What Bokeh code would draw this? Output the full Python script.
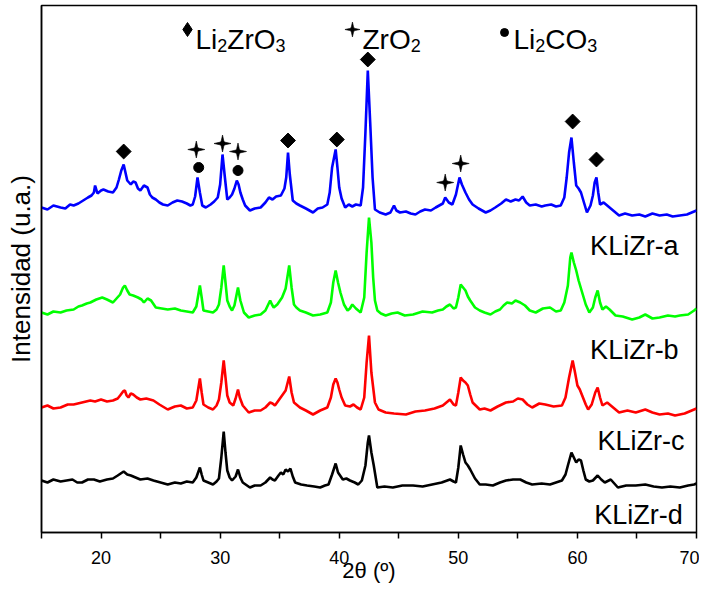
from bokeh.plotting import figure
from bokeh.models import Range1d, FixedTicker
from bokeh.embed import file_html
from bokeh.resources import INLINE
from bokeh.core.properties import value

# ---------------- data (2theta in degrees, intensity in a.u.) ----------------
tt_a = [15.0, 15.5, 16.0, 16.6, 17.0, 17.4, 17.7, 18.1, 18.5, 18.9, 19.2, 19.4, 19.5, 19.7, 20.0,
        20.2, 20.6, 21.0, 21.3, 21.5, 21.7, 21.9, 22.05, 22.2, 22.5, 22.7, 22.9, 23.1, 23.3, 23.6,
        23.9, 24.1, 24.3, 24.6, 24.9, 25.2, 25.6, 26.0, 26.4, 26.8, 27.2, 27.5, 27.7, 27.9, 28.1,
        28.3, 28.5, 28.8, 29.2, 29.5, 29.8, 30.0, 30.2, 30.4, 30.6, 30.8, 31.0, 31.2, 31.4, 31.55,
        31.7, 31.9, 32.1, 32.5, 32.9, 33.4, 33.8, 34.1, 34.4, 34.7, 35.1, 35.4, 35.55, 35.7, 35.85,
        36.1, 36.4, 36.7, 37.2, 37.8, 38.2, 38.6, 39.0, 39.2, 39.4, 39.7, 39.85, 40.0, 40.2, 40.5,
        40.8, 41.1, 41.4, 41.8, 42.0, 42.2, 42.4, 42.6, 42.8, 43.0, 43.4, 43.9, 44.3, 44.6, 44.8,
        45.1, 45.6, 46.0, 46.4, 46.8, 47.2, 47.7, 48.1, 48.4, 48.7, 48.9, 49.2, 49.5, 49.8, 50.1,
        50.3, 50.6, 50.9, 51.2, 51.7, 52.3, 52.7, 53.1, 53.6, 54.0, 54.4, 54.8, 55.1, 55.4, 55.7,
        56.0, 56.5, 57.0, 57.3, 57.8, 58.2, 58.6, 58.9, 59.1, 59.3, 59.5, 59.7, 59.9, 60.1, 60.3,
        60.6, 60.8, 61.1, 61.3, 61.45, 61.6, 61.75, 61.9, 62.2, 62.7, 63.0, 63.5, 64.0, 64.6, 65.2,
        65.7, 66.3, 66.9, 67.5, 68.0, 68.6, 69.2, 69.8, 70.0]
int_a = [25, 23, 27, 25, 24, 28, 27, 29, 32, 35, 37, 40, 47, 39, 42,
         43, 41, 40, 45, 53, 62, 68, 60, 52, 48, 51, 50, 44, 42, 47,
         45, 38, 35, 33, 30, 28, 27, 30, 32, 31, 29, 27, 28, 36, 55,
         40, 27, 25, 28, 31, 35, 48, 78, 55, 33, 35, 38, 44, 52, 48,
         40, 33, 27, 22, 24, 25, 30, 35, 33, 36, 37, 44, 55, 80, 58,
         32, 29, 27, 24, 20, 24, 25, 28, 40, 65, 83, 65, 45, 34, 25,
         28, 26, 28, 27, 45, 100, 162, 110, 55, 23, 20, 18, 20, 27, 22,
         20, 21, 19, 18, 21, 23, 22, 25, 27, 29, 35, 30, 28, 38, 55,
         48, 40, 33, 28, 24, 20, 22, 25, 29, 33, 31, 33, 32, 36, 30,
         27, 28, 26, 27, 28, 26, 27, 35, 55, 80, 95, 70, 47, 44, 40,
         28, 20, 27, 37, 50, 55, 40, 28, 30, 25, 22, 17, 19, 17, 18,
         16, 19, 17, 18, 16, 17, 18, 21, 22]

tt_b = [15.0, 15.5, 16.0, 16.6, 17.1, 17.7, 18.1, 18.4, 18.8, 19.1, 19.6, 20.1, 20.5, 21.0, 21.3,
        21.6, 21.85, 22.0, 22.2, 22.4, 22.7, 23.1, 23.4, 23.6, 23.9, 24.2, 24.6, 25.1, 25.6, 26.2,
        26.7, 27.2, 27.7, 28.0, 28.3, 28.45, 28.6, 29.0, 29.4, 29.7, 29.9, 30.1, 30.3, 30.45, 30.6,
        30.8, 31.0, 31.2, 31.5, 31.7, 32.0, 32.4, 32.9, 33.4, 33.8, 34.2, 34.35, 34.5, 34.8, 35.2,
        35.5, 35.8, 36.0, 36.2, 36.4, 36.7, 37.2, 37.8, 38.4, 39.0, 39.3, 39.5, 39.7, 39.9, 40.1,
        40.4, 40.7, 40.9, 41.1, 41.4, 41.8, 42.1, 42.3, 42.5, 42.7, 42.85, 43.0, 43.2, 43.5, 43.9,
        44.4, 44.9, 45.5, 46.2, 47.0, 47.8, 48.3, 48.7, 49.0, 49.3, 49.6, 49.8, 50.0, 50.2, 50.4,
        50.6, 50.8, 51.0, 51.4, 51.8, 52.2, 52.7, 53.1, 53.5, 53.8, 54.1, 54.5, 54.8, 55.2, 55.6,
        56.0, 56.5, 57.1, 57.7, 58.2, 58.6, 58.9, 59.2, 59.4, 59.5, 59.7, 59.9, 60.1, 60.4, 60.7,
        61.0, 61.3, 61.5, 61.7, 61.9, 62.1, 62.4, 62.7, 63.2, 63.8, 64.6, 65.2, 65.7, 66.3, 66.9,
        67.6, 68.2, 68.6, 69.3, 69.8, 70.0]
int_b = [20, 18, 21, 20, 22, 23, 26, 27, 29, 30, 33, 35, 33, 30, 34,
         38, 45, 47, 42, 38, 37, 35, 33, 30, 34, 32, 25, 24, 23, 24,
         22, 21, 20, 26, 47, 35, 22, 21, 20, 23, 28, 45, 67, 50, 32,
         26, 22, 27, 45, 32, 20, 15, 17, 18, 22, 32, 28, 25, 28, 35,
         44, 67, 45, 28, 25, 22, 20, 17, 18, 20, 30, 50, 62, 50, 40,
         28, 22, 24, 28, 24, 20, 35, 80, 115, 90, 55, 32, 22, 19, 17,
         19, 20, 17, 18, 21, 20, 22, 23, 26, 28, 24, 25, 35, 48, 45,
         42, 36, 32, 25, 22, 20, 18, 21, 23, 27, 30, 29, 32, 30, 27,
         22, 20, 24, 25, 21, 22, 30, 47, 75, 80, 70, 62, 52, 40, 28,
         20, 25, 35, 42, 30, 23, 26, 23, 17, 16, 13, 15, 18, 14, 15,
         17, 16, 17, 18, 22, 24]

tt_c = [15.0, 15.5, 16.0, 16.6, 17.2, 17.7, 18.4, 19.1, 19.5, 20.0, 20.5, 21.0, 21.4, 21.6, 21.85,
        22.0, 22.15, 22.3, 22.5, 22.7, 23.0, 23.3, 23.8, 24.4, 24.9, 25.6, 26.2, 26.7, 27.2, 27.7,
        28.0, 28.3, 28.45, 28.6, 29.0, 29.4, 29.7, 29.9, 30.1, 30.3, 30.45, 30.6, 30.8, 31.1, 31.3,
        31.5, 31.65, 31.9, 32.4, 32.9, 33.4, 33.8, 34.2, 34.4, 34.6, 34.9, 35.2, 35.5, 35.8, 36.0,
        36.2, 36.7, 37.2, 37.8, 38.4, 39.0, 39.3, 39.5, 39.7, 39.85, 40.0, 40.2, 40.5, 40.9, 41.2,
        41.5, 41.8, 42.1, 42.3, 42.5, 42.7, 42.9, 43.0, 43.3, 43.9, 44.6, 45.6, 46.4, 47.2, 48.0,
        48.7, 49.0, 49.3, 49.6, 49.8, 50.0, 50.2, 50.4, 50.6, 50.8, 51.0, 51.2, 51.8, 52.2, 52.7,
        53.3, 54.0, 54.6, 55.0, 55.4, 55.8, 56.2, 56.8, 57.3, 58.0, 58.7, 59.0, 59.3, 59.6, 59.8,
        60.0, 60.2, 60.4, 60.7, 60.9, 61.2, 61.5, 61.7, 61.9, 62.1, 62.5, 62.8, 63.5, 64.2, 64.9,
        65.7, 66.3, 66.9, 67.6, 68.2, 69.0, 69.8, 70.0]
int_c = [15, 17, 14, 15, 18, 18, 20, 22, 21, 23, 21, 22, 24, 27, 31,
         32, 27, 25, 29, 28, 25, 23, 24, 22, 18, 13, 16, 17, 14, 15,
         22, 44, 30, 18, 15, 13, 17, 23, 40, 62, 45, 27, 20, 17, 24,
         33, 25, 17, 10, 12, 12, 15, 20, 19, 17, 22, 27, 32, 46, 30,
         20, 15, 12, 8, 12, 15, 25, 38, 44, 40, 33, 25, 17, 16, 18,
         15, 13, 25, 60, 87, 50, 30, 20, 13, 10, 9, 8, 11, 12, 14,
         17, 20, 23, 18, 17, 30, 45, 42, 40, 37, 28, 20, 13, 14, 12,
         16, 20, 21, 24, 23, 18, 15, 19, 18, 16, 17, 25, 45, 62, 50,
         37, 33, 27, 18, 13, 18, 30, 35, 25, 17, 20, 17, 10, 12, 10,
         13, 10, 8, 9, 7, 9, 13, 14]

tt_d = [15.0, 15.5, 16.0, 16.6, 17.1, 17.6, 18.0, 18.4, 18.9, 19.4, 19.9, 20.5, 21.0, 21.4, 21.9,
        22.2, 22.5, 22.9, 23.3, 23.9, 24.4, 25.0, 25.6, 26.2, 26.7, 27.2, 27.7, 28.0, 28.3, 28.45,
        28.6, 29.0, 29.4, 29.7, 29.9, 30.1, 30.3, 30.45, 30.6, 30.8, 31.0, 31.3, 31.5, 31.7, 31.9,
        32.5, 32.9, 33.4, 33.8, 34.2, 34.4, 34.6, 34.9, 35.1, 35.3, 35.5, 35.7, 35.9, 36.1, 36.3,
        36.8, 37.3, 37.9, 38.4, 38.8, 39.1, 39.4, 39.7, 39.9, 40.3, 40.6, 40.9, 41.3, 41.6, 41.9,
        42.2, 42.4, 42.5, 42.7, 42.9, 43.2, 43.8, 44.5, 45.3, 46.2, 47.0, 47.8, 48.6, 49.3, 49.6,
        49.8, 50.0, 50.2, 50.4, 50.6, 50.8, 51.0, 51.4, 51.8, 52.3, 52.9, 53.5, 54.0, 54.6, 55.2,
        55.7, 56.2, 57.0, 57.7, 58.2, 58.7, 59.0, 59.2, 59.5, 59.7, 59.9, 60.1, 60.3, 60.5, 60.7,
        61.0, 61.3, 61.7, 62.0, 62.3, 62.8, 63.1, 63.4, 64.1, 64.9, 65.7, 66.4, 67.1, 67.8, 68.6,
        69.3, 69.8, 70.0]
int_d = [12, 10, 13, 11, 12, 13, 10, 10, 13, 13, 11, 13, 14, 17, 21,
         18, 17, 15, 13, 14, 12, 10, 8, 10, 9, 11, 10, 15, 25, 18,
         12, 10, 8, 11, 14, 35, 61, 40, 22, 15, 12, 16, 23, 15, 10,
         5, 7, 7, 10, 15, 13, 12, 17, 20, 18, 23, 21, 24, 16, 10,
         8, 7, 6, 5, 7, 8, 18, 29, 20, 13, 14, 12, 10, 8, 12,
         27, 50, 57, 40, 27, 5, 6, 5, 7, 7, 6, 8, 10, 13, 11,
         10, 25, 47, 38, 30, 27, 23, 14, 8, 8, 7, 10, 12, 13, 13,
         10, 8, 9, 8, 10, 12, 18, 27, 40, 35, 30, 33, 32, 22, 13,
         11, 12, 17, 13, 10, 13, 9, 5, 7, 7, 8, 6, 5, 6, 5,
         7, 8, 9]

sample_names = ["KLiZr-a", "KLiZr-b", "KLiZr-c", "KLiZr-d"]
stack_offsets = [300, 200, 110, 40]
line_colors = ["#0000FF", "#00FF00", "#FF0000", "#000000"]

# phase markers (2theta of identified reflections)
li2zro3_tt = [21.9, 35.7, 39.8, 42.4, 59.6, 61.6]
zro2_tt = [28.0, 30.2, 31.5, 48.9, 50.2]
li2co3_tt = [28.2, 31.5]

x_major_ticks = [20, 30, 40, 50, 60, 70]
x_minor_ticks = [15, 25, 35, 45, 55, 65]

# ---------------- figure ----------------
FONT = "Liberation Sans"
FRAME_W, X_SPAN = 655, 55.0
PX = X_SPAN / FRAME_W          # data units per pixel along x (y is 1 unit per pixel)

p = figure(width=699, height=587, x_range=Range1d(15, 70), y_range=Range1d(0, 527),
           output_backend="svg", toolbar_location=None,
           min_border_left=41, min_border_right=3, min_border_top=5, min_border_bottom=55)
p.grid.visible = False
p.outline_line_color = "black"
p.outline_line_width = 1.5
p.background_fill_color = "white"
p.border_fill_color = "white"

xa = p.xaxis[0]
xa.ticker = FixedTicker(ticks=x_major_ticks, minor_ticks=x_minor_ticks)
xa.major_tick_out = 6
xa.major_tick_in = 0
xa.minor_tick_out = 6
xa.minor_tick_in = 0
xa.axis_line_width = 1.5
xa.major_tick_line_width = 1.5
xa.minor_tick_line_width = 1.5
xa.major_label_text_font = FONT
xa.major_label_text_font_size = "18px"
xa.major_label_text_color = "black"
xa.major_label_standoff = 12
xa.axis_label = "2θ (º)"
xa.axis_label_text_font = FONT
xa.axis_label_text_font_size = "22px"
xa.axis_label_text_font_style = "normal"
xa.axis_label_text_color = "black"
xa.axis_label_standoff = -9

ya = p.yaxis[0]
ya.ticker = FixedTicker(ticks=[])
ya.major_tick_out = 0
ya.minor_tick_out = 0
ya.major_label_standoff = 0
ya.axis_line_width = 1.5
ya.axis_label = "Intensidad (u.a.)"
ya.axis_label_text_font = FONT
ya.axis_label_text_font_size = "26px"
ya.axis_label_text_font_style = "normal"
ya.axis_label_text_color = "black"
ya.axis_label_standoff = 6

all_tt = [tt_a, tt_b, tt_c, tt_d]
all_int = [int_a, int_b, int_c, int_d]
for tt, iv, off, col in zip(all_tt, all_int, stack_offsets, line_colors):
    p.line(tt, [v + off for v in iv], line_color=col, line_width=2.6)

# sample labels
lab_x = [68.5, 68.5, 69.0, 68.85]
lab_y = [287, 183, 92, 18]
p.text(x=lab_x, y=lab_y, text=sample_names, text_font=value(FONT), text_font_size=value("27px"),
       text_align="right", text_baseline="alphabetic", text_color="black")


def stars(cx_list, cy_list, r_px):
    """four-pointed concave star outlines around the given centres"""
    import math
    prof = [(90, 1.0), (67.5, 0.38), (45, 0.28), (22.5, 0.38)]
    xs, ys = [], []
    for cx, cy in zip(cx_list, cy_list):
        px_, py_ = [], []
        for q in range(4):
            for ang, rf in prof:
                a = math.radians(ang - 90 * q)
                px_.append(cx + math.cos(a) * rf * r_px * PX)
                py_.append(cy + math.sin(a) * rf * r_px)
        xs.append(px_)
        ys.append(py_)
    p.patches(xs, ys, fill_color="black", line_color="black", line_width=0.6)


# phase markers above peaks
dia_y = [381, 392, 393, 473, 411, 373]
star_y = [383, 389, 381, 350, 369]
circ_y = [365, 362]
p.scatter(li2zro3_tt, dia_y, marker="square", angle=0.785398, size=10.5,
          fill_color="black", line_color="black")
stars(zro2_tt, star_y, 8.5)
p.scatter(li2co3_tt, circ_y, marker="circle", size=10, fill_color="black", line_color="black")

# legend (symbol + formula with subscripts)
W = {"L": 0.556, "i": 0.222, "Z": 0.611, "r": 0.333, "O": 0.778, "C": 0.722, "2": 0.556, "3": 0.556}
MAIN, SUB = 28, 18


def formula(x0, pieces):
    x = x0
    for txt, is_sub in pieces:
        fs = SUB if is_sub else MAIN
        p.text(x=[x], y=[487 if is_sub else 493], text=[txt], text_font=value(FONT),
               text_font_size=value(f"{fs}px"), text_align="left", text_baseline="alphabetic",
               text_color="black")
        x += sum(W[c] for c in txt) * fs * PX


p.scatter([27.26], [503], marker="diamond", size=14, fill_color="black", line_color="black")
formula(27.93, [("Li", False), ("2", True), ("ZrO", False), ("3", True)])
stars([41.11], [503], 7.5)
formula(41.95, [("ZrO", False), ("2", True)])
p.scatter([53.88], [500], marker="circle", size=8, fill_color="black", line_color="black")
formula(54.63, [("Li", False), ("2", True), ("CO", False), ("3", True)])

open("out.html", "w").write(file_html(p, INLINE))
